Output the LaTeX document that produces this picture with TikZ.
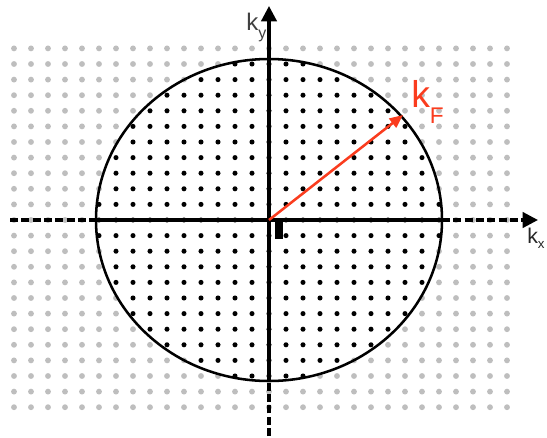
\documentclass[tikz,border=0pt]{standalone}
\usepackage{fontspec}
\setmainfont{Liberation Sans}
\usetikzlibrary{arrows.meta}
\definecolor{kred}{RGB}{250,60,30}
\definecolor{dotgray}{RGB}{190,190,190}
\tikzset{
  axisline/.style={line width=2.4pt},
  axisdash/.style={line width=2.4pt, dash pattern=on 6pt off 2.5pt},
  axistip/.style={-{Triangle[length=11.5pt,width=11.5pt]}},
  fermi/.style={line width=1.9pt},
  kvec/.style={kred, line width=1.9pt, -{Triangle[length=10pt,width=8.5pt]}},
  innerdot/.style={fill=black},
  outerdot/.style={fill=dotgray},
}
\begin{document}
\begin{tikzpicture}[x=0.75pt,y=-0.75pt]
\useasboundingbox (0,0) rectangle (547,437);
\clip (0,0) rectangle (547,437);
\coordinate (O) at (269,220);
% lattice of k-points
\foreach \i in {-15,...,14}{
  \foreach \j in {-11,...,12}{
    \pgfmathsetmacro\rr{(17*\i/173)^2+(15.6*\j/161)^2}
    \ifdim\rr pt<1pt
      \fill[innerdot] (269+17*\i,220+15.6*\j) circle[radius=1.9pt];
    \else
      \fill[outerdot] (269+17*\i,220+15.6*\j) circle[radius=2.2pt];
    \fi
  }
}
% Fermi circle
\draw[fermi] (O) ellipse[x radius=129.75pt, y radius=120.75pt];
% axes
\coordinate (xl) at (10,220);
\coordinate (xa) at (96,220);
\coordinate (xb) at (442,220);
\coordinate (xr) at (538,220);
\coordinate (yb) at (269,436);
\coordinate (ya) at (269,380);
\coordinate (yc) at (269,60);
\coordinate (yt) at (269,6);
\draw[axisdash] (xl) -- (xa);
\draw[axisline] (xa) -- (xb);
\draw[axisdash, axistip] (xb) -- (xr);
\draw[axisdash] (yb) -- (ya);
\draw[axisline] (ya) -- (yc);
\draw[axisline, axistip] (yc) -- (yt);
% small marker
\fill[black] (275,218) rectangle (283,239);
% Fermi wave vector
\coordinate (kf) at (403,115);
\draw[kvec] (O) -- (kf);
% labels
\node[kred, anchor=base west, inner sep=0pt, font=\fontsize{28}{30}\selectfont] (kFlab) at (411,107) {k\raisebox{-12pt}{\fontsize{17}{18}\selectfont F}};
\node[black!75, anchor=base west, inner sep=0pt, font=\fontsize{18}{20}\selectfont] (kylab) at (246,30) {k\raisebox{-6pt}{\fontsize{12}{13}\selectfont y}};
\node[black!85, anchor=base west, inner sep=0pt, font=\fontsize{16}{18}\selectfont] (kxlab) at (527,243) {k\raisebox{-4pt}{\fontsize{10}{11}\selectfont x}};
\end{tikzpicture}
\end{document}
